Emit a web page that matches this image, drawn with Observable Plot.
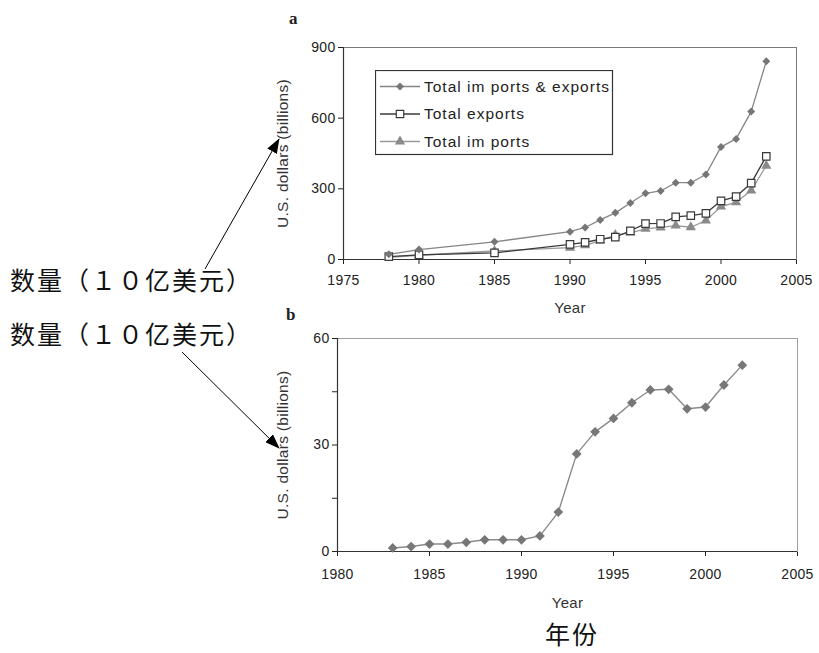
<!DOCTYPE html>
<html>
<head>
<meta charset="utf-8">
<script src="https://cdn.jsdelivr.net/npm/d3@7"></script>
<script src="https://cdn.jsdelivr.net/npm/@observablehq/plot@0.6"></script>
<style>
  html, body { margin: 0; padding: 0; background: #fff; }
  #root { position: relative; width: 819px; height: 653px; background: #fff; }
  .tag { position: absolute; font-family: "Liberation Serif", serif; font-weight: bold; font-size: 17px; color: #222; line-height: 1; }
  .zh { position: absolute; font-family: "Noto Sans CJK SC", sans-serif; font-size: 25px; letter-spacing: 2px; color: #111; white-space: nowrap; line-height: 1; }
</style>
</head>
<body>
<div id="root"></div>
<script>
// ---------------- data ----------------
const yearsA = [1978, 1980, 1985, 1990, 1991, 1992, 1993, 1994, 1995, 1996, 1997, 1998, 1999, 2000, 2001, 2002, 2003];
const totalTrade = [22, 42, 75, 118, 136, 168, 198, 240, 281, 291, 326, 326, 361, 478, 512, 628, 842];
const totalExports = [12, 20, 28, 64, 73, 86, 95, 122, 152, 153, 181, 186, 196, 249, 267, 324, 438];
const totalImports = [9, 18, 36, 50, 60, 80, 104, 113, 130, 136, 144, 137, 165, 225, 243, 293, 398];
const seriesNames = ["Total im ports & exports", "Total exports", "Total im ports"];

const yearsB = [1983, 1984, 1985, 1986, 1987, 1988, 1989, 1990, 1991, 1992, 1993, 1994, 1995, 1996, 1997, 1998, 1999, 2000, 2001, 2002];
const valuesB = [1.0, 1.4, 2.1, 2.1, 2.6, 3.3, 3.3, 3.3, 4.4, 11.1, 27.5, 33.7, 37.5, 41.9, 45.5, 45.7, 40.2, 40.7, 46.9, 52.5];

const xTicksA = [1975, 1980, 1985, 1990, 1995, 2000, 2005];
const yTicksA = [0, 300, 600, 900];
const xTicksB = [1980, 1985, 1990, 1995, 2000, 2005];
const yTicksB = [0, 15, 30, 45, 60];
const yLabelsB = [0, 30, 60];

const yLabel = "U.S. dollars (billions)";
const xLabel = "Year";
const zhYLabel = "数量（１０亿美元）";
const zhXLabel = "年份";
const panelTags = ["a", "b"];

// ---------------- styles ----------------
const fontFamily = "'Liberation Sans', Arial, sans-serif";
const cTotal = "#858585", cTotalDot = "#767676";
const cExp = "#3a3a3a";
const cImp = "#9a9a9a", cImpDot = "#8a8a8a";
const tickStyle = {fontFamily, fontSize: "14px", color: "#222", background: "transparent", overflow: "visible", letterSpacing: "0.3px"};

const root = document.getElementById("root");

const tableA = [];
yearsA.forEach((y, i) => {
  tableA.push({year: y, value: totalTrade[i], s: seriesNames[0]});
  tableA.push({year: y, value: totalExports[i], s: seriesNames[1]});
  tableA.push({year: y, value: totalImports[i], s: seriesNames[2]});
});
const ser = name => tableA.filter(d => d.s === name);

// ---------------- panel a ----------------
const plotA = Plot.plot({
  width: 819, height: 330,
  marginLeft: 343, marginRight: 23, marginTop: 47, marginBottom: 71,
  style: tickStyle,
  x: {domain: [1975, 2005], ticks: xTicksA, tickFormat: "d", tickSize: 5, tickPadding: 11, label: null},
  y: {domain: [0, 900], ticks: yTicksA, tickFormat: "d", tickSize: 5, tickPadding: 3, label: null},
  marks: [
    Plot.frame({stroke: "#7a7a7a"}),
    Plot.ruleX([1975], {stroke: "#333", strokeWidth: 1.2}),
    Plot.ruleY([0], {stroke: "#333", strokeWidth: 1.2}),
    Plot.line(ser(seriesNames[2]), {x: "year", y: "value", stroke: cImp, strokeWidth: 1.3}),
    Plot.line(ser(seriesNames[1]), {x: "year", y: "value", stroke: cExp, strokeWidth: 1.3}),
    Plot.line(ser(seriesNames[0]), {x: "year", y: "value", stroke: cTotal, strokeWidth: 1.3}),
    Plot.dot(ser(seriesNames[2]), {x: "year", y: "value", symbol: "triangle", fill: cImpDot, r: 3.8}),
    Plot.dot(ser(seriesNames[1]), {x: "year", y: "value", symbol: "square", fill: "white", stroke: cExp, strokeWidth: 1.2, r: 4.2}),
    Plot.dot(ser(seriesNames[0]), {x: "year", y: "value", symbol: "diamond2", fill: cTotalDot, r: 3.6}),
    Plot.text([yLabel], {text: d => d, frameAnchor: "left", textAnchor: "middle", rotate: -90, dx: -60, fontSize: 15.5, fill: "#333"}),
    Plot.text([xLabel], {text: d => d, frameAnchor: "bottom", dy: 53, fontSize: 15, fill: "#333"})
  ]
});
plotA.style.position = "absolute";
plotA.style.left = "0px";
plotA.style.top = "0px";
root.appendChild(plotA);

// ---------------- panel b ----------------
const plotB = Plot.plot({
  width: 819, height: 300,
  marginLeft: 337, marginRight: 22, marginTop: 18, marginBottom: 69,
  style: tickStyle,
  x: {domain: [1980, 2005], ticks: xTicksB, tickFormat: "d", tickSize: 5, tickPadding: 13, label: null},
  y: {domain: [0, 60], ticks: yTicksB, tickFormat: d => yLabelsB.includes(d) ? String(d) : "", tickSize: 5, tickPadding: 3, label: null},
  marks: [
    Plot.frame({stroke: "#a0a0a0"}),
    Plot.ruleX([1980], {stroke: "#333", strokeWidth: 1.2}),
    Plot.ruleY([0], {stroke: "#333", strokeWidth: 1.2}),
    Plot.line(yearsB.map((y, i) => ({year: y, value: valuesB[i]})), {x: "year", y: "value", stroke: "#8a8a8a", strokeWidth: 1.4}),
    Plot.dot(yearsB.map((y, i) => ({year: y, value: valuesB[i]})), {x: "year", y: "value", symbol: "diamond2", fill: "#777", r: 4.4}),
    Plot.text([yLabel], {text: d => d, frameAnchor: "left", textAnchor: "middle", rotate: -90, dx: -54, fontSize: 15.5, fill: "#333"}),
    Plot.text([xLabel], {text: d => d, frameAnchor: "bottom", dy: 56, fontSize: 15, fill: "#333"})
  ]
});
plotB.style.position = "absolute";
plotB.style.left = "0px";
plotB.style.top = "320px";
root.appendChild(plotB);

// ---------------- legend (panel a) ----------------
const legendSpec = [
  {name: seriesNames[0], stroke: cTotal, sym: d3.symbolDiamond2, r: 3.6, fill: cTotalDot, sstroke: "none"},
  {name: seriesNames[1], stroke: cExp, sym: d3.symbolSquare, r: 4.2, fill: "white", sstroke: cExp},
  {name: seriesNames[2], stroke: cImp, sym: d3.symbolTriangle, r: 3.8, fill: cImpDot, sstroke: "none"}
];
const lg = d3.create("svg").attr("width", 240).attr("height", 86)
  .style("position", "absolute").style("left", "375px").style("top", "70px");
lg.append("rect").attr("x", 0.5).attr("y", 0.5).attr("width", 237).attr("height", 84)
  .attr("fill", "white").attr("stroke", "#333").attr("stroke-width", 1.2);
legendSpec.forEach((e, i) => {
  const cy = 16.5 + i * 27.5;
  lg.append("line").attr("x1", 5).attr("x2", 45).attr("y1", cy).attr("y2", cy)
    .attr("stroke", e.stroke).attr("stroke-width", 1.3);
  lg.append("path").attr("d", d3.symbol(e.sym, e.r * e.r * Math.PI)())
    .attr("transform", `translate(25,${cy})`).attr("fill", e.fill).attr("stroke", e.sstroke).attr("stroke-width", 1.2);
  lg.append("text").attr("x", 49).attr("y", cy).attr("dy", "0.35em")
    .attr("font-family", fontFamily).attr("font-size", 15.5).attr("letter-spacing", "1px")
    .attr("fill", "#222").text(e.name);
});
root.appendChild(lg.node());

// ---------------- panel tags & chinese labels ----------------
function addDiv(cls, text, left, top) {
  const d = document.createElement("div");
  d.className = cls; d.textContent = text;
  d.style.left = left + "px"; d.style.top = top + "px";
  root.appendChild(d);
  return d;
}
addDiv("tag", panelTags[0], 289, 10);
addDiv("tag", panelTags[1], 286, 306);
addDiv("zh", zhYLabel, 10, 267);
addDiv("zh", zhYLabel, 10, 321);
addDiv("zh", zhXLabel, 545, 621);

// ---------------- arrows (annotation) ----------------
const arrows = [
  {x1: 205, y1: 269, x2: 279, y2: 139},
  {x1: 182, y1: 352, x2: 279, y2: 448}
];
const ov = d3.create("svg").attr("width", 819).attr("height", 653)
  .style("position", "absolute").style("left", "0px").style("top", "0px").style("pointer-events", "none");
ov.append("defs").append("marker").attr("id", "ah")
  .attr("markerUnits", "userSpaceOnUse").attr("markerWidth", 15).attr("markerHeight", 11)
  .attr("refX", 14).attr("refY", 5.5).attr("orient", "auto")
  .append("path").attr("d", "M0,0 L15,5.5 L0,11 Z").attr("fill", "#000");
arrows.forEach(a => {
  ov.append("line").attr("x1", a.x1).attr("y1", a.y1).attr("x2", a.x2).attr("y2", a.y2)
    .attr("stroke", "#000").attr("stroke-width", 1).attr("marker-end", "url(#ah)");
});
root.appendChild(ov.node());
</script>
</body>
</html>
